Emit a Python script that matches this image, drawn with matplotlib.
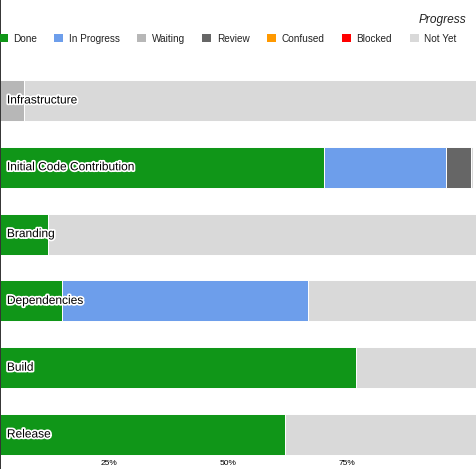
import matplotlib
matplotlib.use("Agg")
import matplotlib.pyplot as plt
import matplotlib.patheffects as pe
from matplotlib.patches import Patch
import numpy as np

categories = ["Infrastructure", "Initial Code Contribution", "Branding",
              "Dependencies", "Build", "Release"]
statuses = ["Done", "In Progress", "Waiting", "Review", "Confused", "Blocked", "Not Yet"]
colors = ["#109618", "#6d9eeb", "#b7b7b7", "#666666", "#ff9900", "#ff0000", "#d9d9d9"]

# percent values per status (rows follow categories)
done        = [0.0, 70.2, 12.3, 15.3, 76.9, 62.0]
in_progress = [0.0, 25.5, 0.0, 51.5, 0.0, 0.0]
waiting     = [7.3, 0.0, 0.0, 0.0, 0.0, 0.0]
review      = [0.0, 5.4, 0.0, 0.0, 0.0, 0.0]
confused    = [0.0, 0.0, 0.0, 0.0, 0.0, 0.0]
blocked     = [0.0, 0.0, 0.0, 0.0, 0.0, 0.0]
not_yet     = [95.0, 0.4, 90.0, 35.5, 25.4, 40.3]
series = [done, in_progress, waiting, review, confused, blocked, not_yet]

xticks = [25, 50, 75]
xtick_labels = ["25%", "50%", "75%"]

plt.rcParams['font.family'] = ['Liberation Sans', 'DejaVu Sans']

fig = plt.figure(figsize=(4.76, 4.69), dpi=100)
ax = fig.add_axes([0, 0, 1, 1])

y = np.arange(len(categories))
left = np.zeros(len(categories))
for vals, col in zip(series, colors):
    v = np.array(vals)
    ax.barh(y, v, left=left, height=0.614, color=col, edgecolor="white",
            linewidth=0.7)
    left += v

ax.set_xlim(2.25, 102.05)
ax.set_ylim(5.516, -1.504)

for s in ["top", "right", "bottom"]:
    ax.spines[s].set_visible(False)
ax.spines["left"].set_color("#333333")
ax.spines["left"].set_linewidth(1.4)
ax.set_yticks([])
ax.set_xticks(xticks)
ax.set_xticklabels(xtick_labels, fontsize=6)
ax.tick_params(axis="x", length=0, pad=-6.3)

for yi, cat in zip(y, categories):
    ax.text(3.7, yi, cat, fontsize=8.6, color="black", va="center", ha="left",
            path_effects=[pe.withStroke(linewidth=2.5, foreground="white")])

handles = [Patch(facecolor=c, edgecolor="none", label=s) for s, c in zip(statuses, colors)]
leg = ax.legend(handles=handles, ncol=7, loc="center left",
                bbox_to_anchor=(-0.003, 1 - 38.5 / 469), frameon=False,
                fontsize=7.2, handlelength=0.9, handleheight=0.9,
                handletextpad=0.55, columnspacing=1.75, borderaxespad=0,
                borderpad=0, labelcolor="#222222")

fig.text(466 / 476, 1 - 19.5 / 469, "Progress", fontsize=8.6, style="italic",
         ha="right", va="center", color="#222222")

fig.savefig("out.png", dpi=100)
